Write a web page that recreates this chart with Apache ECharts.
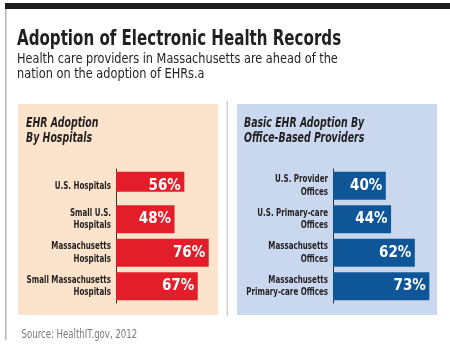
<!DOCTYPE html>
<html>
<head>
<meta charset="utf-8">
<script src="https://cdn.jsdelivr.net/npm/echarts@6/dist/echarts.min.js"></script>
<style>
  html, body { margin: 0; padding: 0; background: #fff; }
  #chart { width: 450px; height: 351px; }
</style>
</head>
<body>
<div id="chart"></div>
<script>
// 医院 EHR 采用率
const hospitalNames = ["U.S. Hospitals", "Small U.S.\nHospitals", "Massachusetts\nHospitals", "Small Massachusetts\nHospitals"];
const hospitalValues = [56, 48, 76, 67];
// 门诊 EHR 采用率
const officeNames = ["U.S. Provider\nOffices", "U.S. Primary-care\nOffices", "Massachusetts\nOffices", "Massachusetts\nPrimary-care Offices"];
const officeValues = [40, 44, 62, 73];

const NARROW = '"DejaVu Sans Condensed", "Liberation Sans Narrow", sans-serif';
const RED = "#e31e2a";
const BLUE = "#0f5699";

// 单行标签用细柱，两行标签用粗柱
function thin(names, values) {
  return values.map((v, i) => (names[i].indexOf("\n") < 0 ? v : "-"));
}
function thick(names, values) {
  return values.map((v, i) => (names[i].indexOf("\n") < 0 ? "-" : v));
}

function barLabel(offsetY) {
  return {
    show: true,
    position: "insideRight",
    distance: 3.5,
    offset: [0, offsetY],
    formatter: "{c}%",
    color: "#fff",
    fontFamily: NARROW,
    fontWeight: "bold",
    fontSize: 15
  };
}

function yAxisOf(names, gridIndex) {
  return {
    type: "category",
    gridIndex: gridIndex,
    inverse: true,
    data: names,
    axisTick: { show: false },
    axisLabel: { show: false },
    axisLine: { lineStyle: { color: "#333", width: 1 } }
  };
}

// 分类标签：字体无窄体，只能横向压缩
function nameSeries(names, index) {
  return {
    type: "custom",
    xAxisIndex: index,
    yAxisIndex: index,
    silent: true,
    data: names.map(n => [0, n]),
    encode: { x: 0, y: 1 },
    renderItem: (params, api) => {
      const p = api.coord([0, api.value(1)]);
      return {
        type: "text",
        x: p[0] - 5,
        y: p[1],
        scaleX: 0.72,
        style: {
          text: names[params.dataIndex],
          align: "right",
          verticalAlign: "middle",
          fill: "#231f20",
          fontFamily: NARROW,
          fontWeight: "bold",
          fontSize: 11,
          lineHeight: 12.5
        }
      };
    }
  };
}

function headText(x, y, text, sx, style) {
  return {
    type: "text",
    x: x,
    y: y,
    scaleX: sx,
    style: Object.assign({
      x: 0,
      y: 0,
      text: text,
      fill: "#231f20",
      fontFamily: NARROW,
      verticalAlign: "middle",
      textVerticalAlign: "middle"
    }, style)
  };
}

const italicHead = { fontSize: 14.5, fontWeight: "bold", fontStyle: "italic" };

const chart = echarts.init(document.getElementById("chart"));
chart.setOption({
  animation: false,
  graphic: [
    { type: "rect", shape: { x: 5, y: 3, width: 445, height: 6 }, style: { fill: "#1c1c1c" } },
    { type: "rect", shape: { x: 5, y: 9, width: 1.5, height: 331 }, style: { fill: "#b5b5b5" } },
    { type: "rect", shape: { x: 18, y: 104, width: 200, height: 211 }, style: { fill: "#fce3cb" } },
    { type: "rect", shape: { x: 237, y: 104, width: 200, height: 211 }, style: { fill: "#c9d8ee" } },
    { type: "rect", shape: { x: 226.5, y: 101, width: 1.5, height: 215 }, style: { fill: "#d0d0d0" } },
    headText(17, 39, "Adoption of Electronic Health Records", 0.78, { fontSize: 21.5, fontWeight: "bold" }),
    headText(17, 59, "Health care providers in Massachusetts are ahead of the", 0.9, { fontSize: 14 }),
    headText(17, 74.5, "nation on the adoption of EHRs.a", 0.9, { fontSize: 14 }),
    headText(26, 123, "EHR Adoption", 0.72, italicHead),
    headText(26, 138, "By Hospitals", 0.72, italicHead),
    headText(244, 123, "Basic EHR Adoption By", 0.72, italicHead),
    headText(244, 138, "Office-Based Providers", 0.72, italicHead),
    headText(21.5, 335, "Source: HealthIT.gov, 2012", 0.83, { fontSize: 11.5, fill: "#7a7a7a" })
  ],
  grid: [
    { left: 116, top: 169, width: 122, height: 134, outerBoundsMode: "none" },
    { left: 333, top: 169, width: 100.3, height: 134, outerBoundsMode: "none" }
  ],
  xAxis: [
    { type: "value", gridIndex: 0, min: 0, max: 100, show: false },
    { type: "value", gridIndex: 1, min: 0, max: 76, show: false }
  ],
  yAxis: [yAxisOf(hospitalNames, 0), yAxisOf(officeNames, 1)],
  series: [
    {
      type: "bar",
      xAxisIndex: 0,
      yAxisIndex: 0,
      barWidth: 20,
      barGap: "-100%",
      itemStyle: { color: RED },
      label: barLabel(4),
      data: thin(hospitalNames, hospitalValues)
    },
    {
      type: "bar",
      xAxisIndex: 0,
      yAxisIndex: 0,
      barWidth: 28,
      barGap: "-100%",
      itemStyle: { color: RED },
      label: barLabel(0),
      data: thick(hospitalNames, hospitalValues)
    },
    {
      type: "bar",
      xAxisIndex: 1,
      yAxisIndex: 1,
      barWidth: 28,
      itemStyle: { color: BLUE },
      label: barLabel(0),
      data: officeValues
    },
    nameSeries(hospitalNames, 0),
    nameSeries(officeNames, 1)
  ]
});
</script>
</body>
</html>
